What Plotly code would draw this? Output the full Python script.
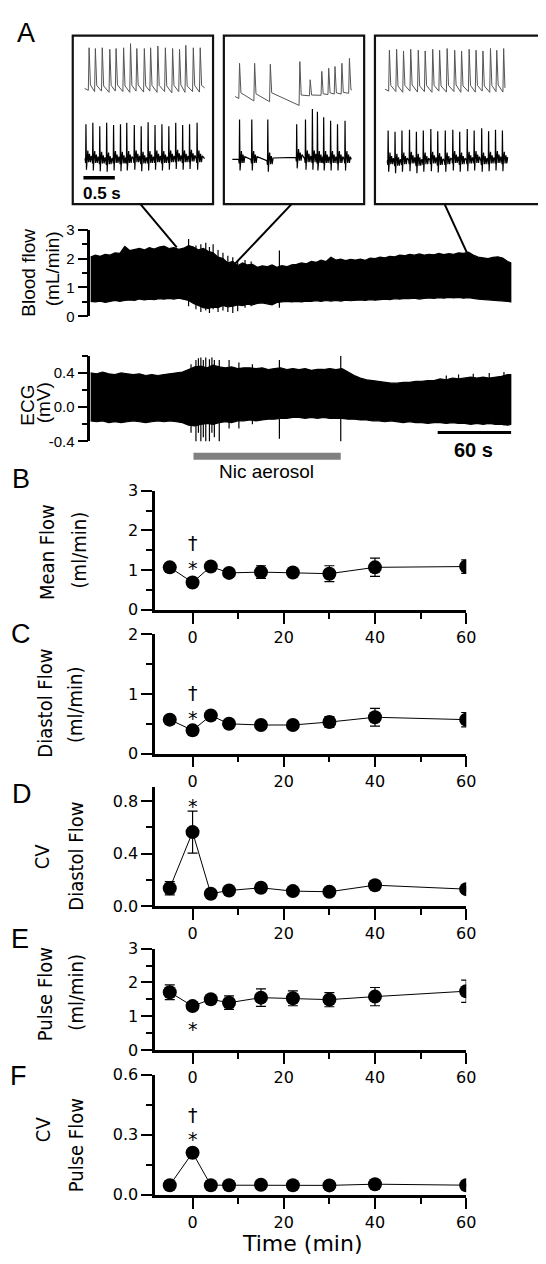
import plotly.graph_objects as go

# ======================= DATA =======================
# ---- Panel A: continuous blood-flow trace (time in s, flow in mL/min), envelope of the pulsatile signal
flow_t = [0, 4, 8, 12, 16, 20, 24, 28, 32, 36, 40, 44, 48, 52, 56, 60, 64, 68, 72, 76,
          80, 84, 88, 92, 96, 100, 104, 108, 112, 116, 120, 124, 128, 132, 136, 140, 144, 148,
          152, 156, 160, 164, 168, 172, 176, 180, 184, 188, 192, 196, 200, 204, 208, 212, 216,
          220, 224, 228, 232, 236, 240, 244, 248, 252, 256, 260, 264, 268, 272, 276, 280, 284,
          288, 292, 296, 300, 304, 308, 312, 316, 320, 324, 328, 332, 336, 340, 343]
flow_upper = [2.05, 2.12, 2.08, 2.15, 2.12, 2.2, 2.18, 2.42, 2.28, 2.32, 2.35, 2.3, 2.38, 2.33,
              2.4, 2.43, 2.35, 2.38, 2.32, 2.36, 2.45, 2.4, 2.3, 2.35, 2.25, 2.2, 2.05, 2.0, 1.85,
              1.9, 1.75, 1.85, 1.78, 1.8, 1.7, 1.75, 1.72, 1.78, 1.7, 1.76, 1.72, 1.78, 1.8, 1.85,
              1.82, 1.9, 1.87, 1.95, 1.9, 2.05, 1.95, 1.98, 1.93, 1.97, 1.95, 1.98, 1.94, 2.02,
              2.0, 2.05, 2.03, 2.08, 2.06, 2.12, 2.1, 2.15, 2.12, 2.16, 2.12, 2.15, 2.13, 2.18,
              2.14, 2.17, 2.15, 2.2, 2.18, 2.22, 2.12, 2.05, 2.02, 2.0, 2.04, 2.06, 2.02, 1.9, 1.85]
flow_lower = [0.52, 0.5, 0.53, 0.48, 0.52, 0.55, 0.52, 0.55, 0.57, 0.55, 0.6, 0.57, 0.6, 0.58,
              0.61, 0.6, 0.62, 0.6, 0.63, 0.6, 0.55, 0.45, 0.38, 0.3, 0.28, 0.32, 0.3, 0.38, 0.33,
              0.35, 0.4, 0.37, 0.42, 0.4, 0.45, 0.47, 0.44, 0.4, 0.48, 0.5, 0.52, 0.5, 0.52, 0.5,
              0.53, 0.52, 0.54, 0.52, 0.55, 0.53, 0.55, 0.53, 0.56, 0.54, 0.56, 0.57, 0.55, 0.58,
              0.56, 0.59, 0.6, 0.58, 0.61, 0.6, 0.62, 0.61, 0.63, 0.6, 0.62, 0.64, 0.62, 0.65,
              0.63, 0.66, 0.64, 0.66, 0.63, 0.65, 0.62, 0.6, 0.58, 0.57, 0.55, 0.56, 0.53, 0.52, 0.5]
flow_spike_t = [80, 86, 90, 94, 97, 100, 104, 108, 112, 116, 120, 126, 131, 154]
flow_spike_hi = [2.68, 2.45, 2.5, 2.55, 2.4, 2.5, 2.3, 2.2, 2.1, 2.05, 1.95, 1.95, 1.9, 2.28]
flow_spike_lo = [0.35, 0.25, 0.15, 0.2, 0.12, 0.25, 0.15, 0.2, 0.15, 0.12, 0.18, 0.3, 0.35, 0.3]

# ---- Panel A: ECG trace envelope (mV)
ecg_t = [0, 5, 10, 15, 20, 25, 30, 35, 40, 45, 50, 55, 60, 65, 70, 75, 80, 85, 90, 95, 100,
         105, 110, 115, 120, 125, 130, 135, 140, 145, 150, 155, 160, 165, 170, 175, 180, 185,
         190, 195, 200, 205, 210, 215, 220, 225, 230, 235, 240, 245, 250, 255, 260, 265, 270,
         275, 280, 285, 290, 295, 300, 305, 310, 315, 320, 325, 330, 335, 340, 343]
ecg_upper = [0.40, 0.39, 0.41, 0.39, 0.38, 0.40, 0.39, 0.38, 0.39, 0.37, 0.38, 0.37, 0.38, 0.39,
             0.40, 0.41, 0.44, 0.47, 0.48, 0.46, 0.49, 0.47, 0.46, 0.47, 0.45, 0.46, 0.46, 0.45,
             0.46, 0.44, 0.45, 0.46, 0.44, 0.45, 0.44, 0.45, 0.43, 0.44, 0.44, 0.45, 0.44, 0.45,
             0.41, 0.37, 0.34, 0.32, 0.31, 0.30, 0.29, 0.28, 0.28, 0.29, 0.29, 0.30, 0.30, 0.31,
             0.31, 0.33, 0.32, 0.34, 0.33, 0.34, 0.35, 0.34, 0.35, 0.34, 0.35, 0.36, 0.38, 0.38]
ecg_lower = [-0.16, -0.17, -0.16, -0.18, -0.17, -0.18, -0.17, -0.16, -0.17, -0.18, -0.17, -0.16,
             -0.17, -0.16, -0.17, -0.18, -0.21, -0.22, -0.20, -0.19, -0.20, -0.18, -0.17, -0.18,
             -0.16, -0.16, -0.15, -0.16, -0.15, -0.14, -0.14, -0.13, -0.13, -0.12, -0.12, -0.13,
             -0.12, -0.13, -0.12, -0.13, -0.13, -0.13, -0.14, -0.14, -0.15, -0.15, -0.16, -0.16,
             -0.17, -0.16, -0.17, -0.18, -0.17, -0.18, -0.18, -0.19, -0.18, -0.18, -0.19, -0.18,
             -0.19, -0.19, -0.20, -0.19, -0.20, -0.19, -0.20, -0.20, -0.21, -0.20]
ecg_spike_t = [82, 86, 88, 90, 92, 94, 97, 99, 101, 105, 113, 121, 132, 154, 204, 290, 300, 312, 325, 337]
ecg_spike_hi = [0.5, 0.55, 0.57, 0.58, 0.55, 0.58, 0.56, 0.58, 0.55, 0.55, 0.55, 0.52, 0.5, 0.55,
                0.6, 0.37, 0.38, 0.39, 0.4, 0.41]
ecg_spike_lo = [-0.3, -0.4, -0.3, -0.4, -0.35, -0.4, -0.4, -0.3, -0.35, -0.4, -0.25, -0.25, -0.2,
                -0.37, -0.4, -0.18, -0.19, -0.19, -0.2, -0.21]

trace_duration = 343          # s
aerosol_start, aerosol_end = 84, 204   # s
scale_bar_s = 60              # s

# ---- Insets (time in s within each ~2.2 s window)
in1_flow_t = [0.26, 0.36, 0.47, 0.59, 0.69, 0.81, 0.92, 1.02, 1.14, 1.24, 1.355, 1.475, 1.59, 1.70, 1.80, 1.92, 2.03]
in1_flow_peak = [2.23, 2.2, 2.23, 2.17, 2.2, 2.23, 2.4, 2.2, 2.2, 2.23, 2.3, 2.23, 2.2, 2.17, 2.33, 2.23, 2.23]
in1_flow_trough = [0.5, 0.45, 0.47, 0.42, 0.47, 0.45, 0.42, 0.47, 0.43, 0.47, 0.42, 0.45, 0.4, 0.45, 0.42, 0.45, 0.43]
in1_flow_post = [0.72, 0.7, 0.68, 0.7, 0.72, 0.68, 0.7, 0.72, 0.68, 0.7, 0.7, 0.68, 0.7, 0.72, 0.68, 0.7, 0.7]
in1_ecg_t = [0.21, 0.32, 0.43, 0.54, 0.65, 0.76, 0.86, 0.98, 1.09, 1.20, 1.31, 1.42, 1.53, 1.64, 1.75, 1.86, 1.98]
in1_ecg_r = [0.53, 0.55, 0.5, 0.55, 0.52, 0.53, 0.55, 0.52, 0.5, 0.56, 0.52, 0.53, 0.5, 0.55, 0.52, 0.53, 0.55]
in1_ecg_base = [0.03, 0.02, 0.01, 0.0, 0.02, 0.01, 0.02, 0.03, 0.01, 0.02, 0.03, 0.02, 0.03, 0.04, 0.03, 0.04, 0.03]
in2_flow_t = [0.25, 0.49, 0.74, 1.21, 1.375, 1.56, 1.67, 1.77, 1.88, 2.0]
in2_flow_peak = [1.6, 1.6, 1.56, 1.67, 0.93, 1.27, 1.4, 1.47, 1.6, 1.8]
in2_flow_trough = [0.17, 0.07, 0.04, -0.11, 0.28, 0.3, 0.33, 0.35, 0.35, 0.38]
in2_flow_post = [0.4, 0.36, 0.4, 0.31, 0.31, 0.36, 0.4, 0.4, 0.42, 0.6]
in2_ecg_t = [0.25, 0.445, 0.70, 1.16, 1.30, 1.41, 1.49, 1.59, 1.70, 1.81, 1.93]
in2_ecg_r = [0.6, 0.6, 0.6, 0.53, 0.6, 0.75, 0.71, 0.63, 0.58, 0.53, 0.58]
in2_ecg_base = [0.02, 0.02, 0.0, 0.05, 0.03, 0.03, 0.02, 0.02, 0.02, 0.02, 0.02]
in3_flow_t = [0.23, 0.345, 0.455, 0.57, 0.69, 0.80, 0.92, 1.03, 1.15, 1.27, 1.38, 1.50, 1.61, 1.72, 1.84, 1.94, 2.05]
in3_flow_peak = [2.13, 2.17, 2.1, 2.17, 2.13, 2.1, 2.17, 2.13, 2.2, 2.13, 2.1, 2.17, 2.13, 2.1, 2.2, 2.13, 2.2]
in3_flow_trough = [0.47, 0.45, 0.42, 0.47, 0.43, 0.45, 0.42, 0.47, 0.43, 0.45, 0.42, 0.45, 0.43, 0.47, 0.42, 0.45, 0.43]
in3_flow_post = [0.7, 0.68, 0.7, 0.72, 0.68, 0.7, 0.7, 0.68, 0.7, 0.72, 0.68, 0.7, 0.7, 0.68, 0.7, 0.72, 0.7]
in3_ecg_t = [0.21, 0.32, 0.43, 0.55, 0.66, 0.77, 0.89, 1.00, 1.12, 1.24, 1.35, 1.47, 1.58, 1.70, 1.81, 1.92, 2.03]
in3_ecg_r = [0.44, 0.42, 0.44, 0.45, 0.42, 0.44, 0.46, 0.43, 0.44, 0.45, 0.42, 0.46, 0.44, 0.47, 0.43, 0.45, 0.44]
in3_ecg_base = [0.0, -0.02, 0.0, 0.01, -0.02, 0.0, 0.01, -0.01, 0.0, 0.02, 0.0, 0.01, 0.02, 0.0, 0.01, 0.02, 0.01]

# ---- Panels B-F (time in min)
time_min = [-5, 0, 4, 8, 15, 22, 30, 40, 60]
mean_flow = [1.07, 0.69, 1.09, 0.93, 0.95, 0.94, 0.91, 1.07, 1.09]
mean_flow_err = [0.1, 0.0, 0.0, 0.08, 0.16, 0.08, 0.2, 0.23, 0.17]
diastol_flow = [0.57, 0.39, 0.64, 0.50, 0.48, 0.48, 0.53, 0.61, 0.57]
diastol_flow_err = [0.07, 0.0, 0.0, 0.04, 0.05, 0.04, 0.09, 0.15, 0.12]
cv_diastol = [0.137, 0.563, 0.095, 0.12, 0.14, 0.115, 0.11, 0.16, 0.13]
cv_diastol_err = [0.05, 0.16, 0.01, 0.02, 0.02, 0.02, 0.02, 0.03, 0.02]
pulse_flow = [1.71, 1.30, 1.50, 1.40, 1.55, 1.53, 1.49, 1.58, 1.74]
pulse_flow_err = [0.22, 0.05, 0.1, 0.2, 0.26, 0.22, 0.21, 0.27, 0.33]
cv_pulse = [0.048, 0.21, 0.048, 0.048, 0.05, 0.048, 0.047, 0.053, 0.048]
cv_pulse_err = [0.005, 0.01, 0.005, 0.005, 0.005, 0.005, 0.005, 0.005, 0.005]

# ======================= FIGURE =======================
# The page body keeps its default 8px margin, so the figure is 16px smaller than the window
PAGE_W, PAGE_H, BODY_MARGIN = 546, 1264, 8
W, H = PAGE_W - 2 * BODY_MARGIN, PAGE_H - 2 * BODY_MARGIN

def PX(x):   # window pixel -> paper fraction
    return (x - BODY_MARGIN) / W
def PY(y):
    return 1 - (y - BODY_MARGIN) / H

fig = go.Figure()

def add(tr):
    tr.update(showlegend=False, hoverinfo="skip")
    fig.add_trace(tr)

def envelope(t, lo, hi, xa, ya):
    add(go.Scatter(x=list(t) + list(t)[::-1], y=list(hi) + list(lo)[::-1], mode="lines",
                   fill="toself", fillcolor="black", line=dict(color="black", width=1.2),
                   xaxis=xa, yaxis=ya))

def spikes(t, lo, hi, xa, ya):
    xs, ys = [], []
    for ti, l, h in zip(t, lo, hi):
        xs += [ti, ti, None]
        ys += [l, h, None]
    add(go.Scatter(x=xs, y=ys, mode="lines", line=dict(color="black", width=1.2), xaxis=xa, yaxis=ya))

envelope(flow_t, flow_lower, flow_upper, "x", "y")
spikes(flow_spike_t, flow_spike_lo, flow_spike_hi, "x", "y")
envelope(ecg_t, ecg_lower, ecg_upper, "x2", "y2")
spikes(ecg_spike_t, ecg_spike_lo, ecg_spike_hi, "x2", "y2")

def flow_wave(pt, tr, pk, po, t_end, xa, ya):
    xs, ys = [pt[0] - 0.07], [tr[0] + 0.08]
    for t, b, p, f in zip(pt, tr, pk, po):
        xs += [t - 0.012, t, t + 0.022]
        ys += [b, p, f]
    xs.append(t_end)
    ys.append(po[-1] - 0.1)
    add(go.Scatter(x=xs, y=ys, mode="lines", line=dict(color="#555555", width=1), xaxis=xa, yaxis=ya))

ECG_DT = [-0.014, -0.005, 0.0, 0.008, 0.018, 0.030, 0.042, 0.056, 0.070, 0.084]
ECG_DV = [0.00, -0.06, 0.0, -0.16, 0.03, 0.12, -0.05, 0.07, -0.05, 0.04]

def ecg_wave(rt, rr, rb, t_start, t_end, xa, ya):
    xs, ys = [t_start], [rb[0]]
    for t, r, b in zip(rt, rr, rb):
        for k, (dt, dv) in enumerate(zip(ECG_DT, ECG_DV)):
            xs.append(t + dt)
            ys.append(r if k == 2 else b + dv)
    xs.append(t_end)
    ys.append(rb[-1])
    add(go.Scatter(x=xs, y=ys, mode="lines", line=dict(color="black", width=1.2), xaxis=xa, yaxis=ya))

flow_wave(in1_flow_t, in1_flow_trough, in1_flow_peak, in1_flow_post, 2.10, "x8", "y8")
ecg_wave(in1_ecg_t, in1_ecg_r, in1_ecg_base, 0.19, 2.10, "x8", "y9")
flow_wave(in2_flow_t, in2_flow_trough, in2_flow_peak, in2_flow_post, 2.03, "x9", "y10")
ecg_wave(in2_ecg_t, in2_ecg_r, in2_ecg_base, 0.135, 2.03, "x9", "y11")
flow_wave(in3_flow_t, in3_flow_trough, in3_flow_peak, in3_flow_post, 2.07, "x10", "y12")
ecg_wave(in3_ecg_t, in3_ecg_r, in3_ecg_base, 0.19, 2.07, "x10", "y13")

panels = [
    ("3", mean_flow, mean_flow_err, [("†", 0, 1.69), ("*", 0, 1.06)]),
    ("4", diastol_flow, diastol_flow_err, [("†", 0, 1.01), ("*", 0, 0.60)]),
    ("5", cv_diastol, cv_diastol_err, [("*", 0, 0.76)]),
    ("6", pulse_flow, pulse_flow_err, [("*", 0, 0.62)]),
    ("7", cv_pulse, cv_pulse_err, [("†", 0, 0.40), ("*", 0, 0.28)]),
]
for ax, vals, errs, marks in panels:
    add(go.Scatter(x=time_min, y=vals, mode="lines+markers",
                   line=dict(color="black", width=1),
                   marker=dict(size=14, color="black"),
                   error_y=dict(type="data", array=errs, color="black", thickness=1.2, width=5),
                   xaxis="x" + ax, yaxis="y" + ax))
    for txt, xv, yv in marks:
        fig.add_annotation(x=xv, y=yv, xref="x" + ax, yref="y" + ax, text=txt, showarrow=False,
                           font=dict(family="DejaVu Sans", size=19, color="black"))

# ======================= AXES =======================
TICKFONT_A = dict(family="Liberation Sans, Arial", size=15, color="black")
TICKFONT = dict(family="DejaVu Sans", size=16, color="black")
hidden = dict(visible=False, showgrid=False, zeroline=False)

lay = dict(width=W, height=H, margin=dict(l=0, r=0, t=0, b=0),
           paper_bgcolor="white", plot_bgcolor="rgba(0,0,0,0)", showlegend=False)

xdomA = [PX(92), PX(521)]
lay["xaxis"] = dict(domain=xdomA, range=[0, trace_duration], anchor="y", **hidden)
lay["xaxis2"] = dict(domain=xdomA, range=[0, trace_duration], anchor="y2", **hidden)

def yaxis_style(dom, rng, tv, tt, minor_t0, minor_dt, anchor, font, ticklen=11, lw=2.6):
    return dict(domain=dom, range=rng, anchor=anchor, tickmode="array", tickvals=tv, ticktext=tt,
                ticks="outside", ticklen=ticklen, tickwidth=2.2, tickcolor="black",
                showline=True, linewidth=lw, linecolor="black", showgrid=False, zeroline=False,
                tickfont=font,
                minor=dict(tickmode="linear", tick0=minor_t0, dtick=minor_dt, ticks="outside",
                           ticklen=6, tickwidth=2.0, tickcolor="black", showgrid=False))

lay["yaxis"] = yaxis_style([PY(312), PY(224)], [0, 3], [0, 1, 2, 3], ["0", "1", "2", "3"],
                           0, 0.5, "x", TICKFONT_A, ticklen=10)
lay["yaxis2"] = yaxis_style([PY(439), PY(352)], [-0.4, 0.6], [-0.4, 0, 0.4], ["-0.4", "0.0", "0.4"],
                            -0.4, 0.2, "x2", TICKFONT_A, ticklen=10)

xdomB = [PX(158), PX(475)]
panel_y = {
    "3": ([PY(610), PY(489)], [0, 3], [0, 1, 2, 3], ["0", "1", "2", "3"], 0.5),
    "4": ([PY(756), PY(635)], [0, 2], [0, 1, 2], ["0", "1", "2"], 0.5),
    "5": ([PY(911), PY(790)], [0, 0.905], [0, 0.4, 0.8], ["0.0", "0.4", "0.8"], 0.2),
    "6": ([PY(1057), PY(954)], [0, 3], [0, 1, 2, 3], ["0", "1", "2", "3"], 0.5),
    "7": ([PY(1204), PY(1082)], [0, 0.6], [0, 0.3, 0.6], ["0.0", "0.3", "0.6"], 0.15),
}
for ax, (dom, rng, tv, tt, mdt) in panel_y.items():
    lay["xaxis" + ax] = dict(domain=xdomB, range=[-8.2, 60], anchor="y" + ax, tickmode="array",
                             tickvals=[0, 20, 40, 60], ticks="outside", ticklen=11, tickwidth=2.2,
                             tickcolor="black", showline=True, linewidth=2.6, linecolor="black",
                             showgrid=False, zeroline=False, tickfont=TICKFONT,
                             minor=dict(tickmode="linear", tick0=0, dtick=10, ticks="outside",
                                        ticklen=6, tickwidth=2.0, tickcolor="black"))
    lay["yaxis" + ax] = yaxis_style(dom, rng, tv, tt, 0, mdt, "x" + ax, TICKFONT)

# inset axes (64 px per second)
inset_x = {"8": [PX(74), PX(217)], "9": [PX(228), PX(371)], "10": [PX(382), 1.0]}
inset_range = {"8": [0, 143 / 64], "9": [0, 143 / 64], "10": [0, (PAGE_W - BODY_MARGIN - 382) / 64]}
for ax, dom in inset_x.items():
    lay["xaxis" + ax] = dict(domain=dom, range=inset_range[ax], **hidden)
for fy, ey, xa in [("8", "9", "x8"), ("10", "11", "x9"), ("12", "13", "x10")]:
    lay["yaxis" + fy] = dict(domain=[PY(100), PY(30)], range=[-0.2, 2.6], anchor=xa, **hidden)
    lay["yaxis" + ey] = dict(domain=[PY(175), PY(98)], range=[-0.3, 0.8], anchor=xa, **hidden)

fig.update_layout(**lay)

# ======================= SHAPES =======================
shapes = []
def pline(x0, y0, x1, y1, w=2, color="black"):
    shapes.append(dict(type="line", xref="paper", yref="paper", x0=PX(x0), y0=PY(y0),
                       x1=PX(x1), y1=PY(y1), line=dict(color=color, width=w)))
for x0, x1 in [(74, 217), (228, 371), (382, 560)]:
    shapes.append(dict(type="rect", xref="paper", yref="paper", x0=PX(x0), x1=PX(x1),
                       y0=PY(198), y1=PY(27), line=dict(color="#111111", width=2.2),
                       fillcolor="rgba(0,0,0,0)"))
pline(143, 198, 180, 242)
pline(297, 198, 238, 260)
pline(453, 198, 477, 250)
shapes.append(dict(type="rect", xref="x8", yref="paper", x0=0.17, x1=0.67,
                   y0=PY(173), y1=PY(169.5), fillcolor="black", line=dict(width=0)))
shapes.append(dict(type="rect", xref="x", yref="paper", x0=trace_duration - scale_bar_s,
                   x1=trace_duration, y0=PY(431.5), y1=PY(428.5), fillcolor="black", line=dict(width=0)))
shapes.append(dict(type="rect", xref="x", yref="paper", x0=aerosol_start, x1=aerosol_end,
                   y0=PY(457.5), y1=PY(450.5), fillcolor="#808080", line=dict(width=0)))
fig.update_layout(shapes=shapes)

# ======================= TEXT =======================
def ptext(txt, x, y, size, family="Liberation Sans, Arial", angle=0, bold=False):
    fig.add_annotation(x=PX(x), y=PY(y), xref="paper", yref="paper", text=("<b>%s</b>" % txt) if bold else txt,
                       showarrow=False, textangle=angle, xanchor="center", yanchor="middle",
                       font=dict(family=family, size=size, color="black"))

for letter, x, y in [("A", 26, 24), ("B", 21, 477), ("C", 21, 635), ("D", 22, 797), ("E", 20, 944), ("F", 19, 1083)]:
    ptext(letter, x, y, 27)

ptext("0.5 s", 104, 187, 17, bold=True)
ptext("60 s", 482, 448, 20, bold=True)
ptext("Nic aerosol", 271, 470, 19)
ptext("Blood flow", 28, 268, 19, angle=-90)
ptext("(mL/min)", 53, 264, 19, angle=-90)
ptext("ECG", 27, 402, 19, angle=-90)
ptext("(mV)", 44, 400, 19, angle=-90)

NARROW = "Liberation Sans Narrow, Arial Narrow, DejaVu Sans Condensed, sans-serif"
for txt, x, y in [("Mean Flow", 47, 551), ("(ml/min)", 80, 549),
                  ("Diastol Flow", 46, 705), ("(ml/min)", 77, 706),
                  ("CV", 43, 860), ("Diastol Flow", 77, 860),
                  ("Pulse Flow", 46, 1000), ("(ml/min)", 77, 998),
                  ("CV", 43, 1137), ("Pulse Flow", 77, 1154)]:
    ptext(txt, x, y, 20, family=NARROW, angle=-90)

ptext("Time (min)", 308, 1253, 22, family="DejaVu Sans")

fig.write_html("out.html")
